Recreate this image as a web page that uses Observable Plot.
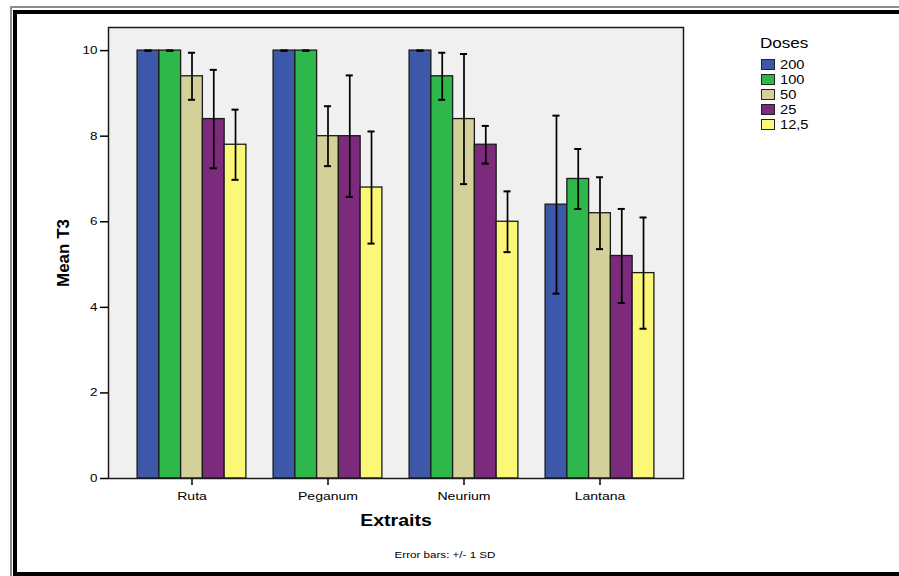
<!DOCTYPE html>
<html>
<head>
<meta charset="utf-8">
<script src="https://cdn.jsdelivr.net/npm/d3@7"></script>
<script src="https://cdn.jsdelivr.net/npm/@observablehq/plot@0.6"></script>
<style>
  html, body { margin: 0; padding: 0; background: #fff; }
  #wrap { position: relative; width: 899px; height: 576px; overflow: hidden; font-family: "Liberation Sans", Arial, sans-serif; background: #fff; }
  #chart { position: absolute; left: 0; top: 0; }
  .b1 { position: absolute; left: 10px; top: 6px; width: 920px; height: 600px; border-left: 2px solid #8c8c8c; border-top: 2px solid #8c8c8c; }
  .b2 { position: absolute; left: 13px; top: 10px; width: 920px; height: 558px; border: 4px solid #000; border-right: none; }
  .lg { position: absolute; white-space: nowrap; color: #000; line-height: 1; }
  .lg span { display: inline-block; transform: scaleX(1.22); transform-origin: left center; }
  .sw { position: absolute; box-sizing: border-box; width: 14px; height: 10.5px; border: 1.5px solid #222; }
</style>
</head>
<body>
<div id="wrap">
  <div class="b1"></div>
  <div class="b2"></div>
  <div id="chart"></div>
  <div id="legend"></div>
</div>
<script>
const categories = ["Ruta", "Peganum", "Neurium", "Lantana"];
const doses = ["200", "100", "50", "25", "12,5"];
const doseColors = ["#3d57a9", "#2eb84b", "#d4d099", "#7c2a7c", "#fbf777"];

const meanRuta    = [10, 10, 9.4, 8.4, 7.8];
const meanPeganum = [10, 10, 8.0, 8.0, 6.8];
const meanNeurium = [10, 9.4, 8.4, 7.8, 6.0];
const meanLantana = [6.4, 7.0, 6.2, 5.2, 4.8];

const sdRuta    = [0, 0, 0.55, 1.15, 0.82];
const sdPeganum = [0, 0, 0.70, 1.42, 1.31];
const sdNeurium = [0, 0.55, 1.52, 0.44, 0.71];
const sdLantana = [2.08, 0.70, 0.84, 1.10, 1.30];

const yTicks = [0, 2, 4, 6, 8, 10];
const groupTicks = [0, 1, 2, 3];

const means = [meanRuta, meanPeganum, meanNeurium, meanLantana];
const sds = [sdRuta, sdPeganum, sdNeurium, sdLantana];

// band layout in group units: band width 0.8, outer padding 0.214
const bandW = 0.8;
const bw = bandW / doses.length;
const cap = 0.026;
const data = categories.flatMap((cat, g) => doses.map((dose, i) => ({
  cat, dose,
  mean: means[g][i],
  sd: sds[g][i],
  x1: g - bandW / 2 + i * bw,
  x2: g - bandW / 2 + (i + 1) * bw,
  xc: g - bandW / 2 + (i + 0.5) * bw
})));

const plot = Plot.plot({
  width: 899,
  height: 576,
  marginLeft: 108,
  marginRight: 216,
  marginTop: 27,
  marginBottom: 98,
  style: { fontFamily: '"Liberation Sans", Arial, sans-serif', fontSize: "11px", color: "#000", background: "transparent", overflow: "visible" },
  x: { domain: [-0.614, 3.614] },
  y: { domain: [0, 10.54] },
  color: { domain: doses, range: doseColors },
  marks: [
    Plot.frame({ fill: "#f0f0f0" }),
    Plot.rectY(data, { x1: "x1", x2: "x2", y: "mean", fill: "dose", stroke: "#1a1a1a", strokeWidth: 1.3 }),
    Plot.ruleX(data, { x: "xc", y1: d => d.mean - d.sd, y2: d => d.mean + d.sd, stroke: "#000", strokeWidth: 1.7 }),
    Plot.ruleY(data, { y: d => d.mean + d.sd, x1: d => d.xc - cap, x2: d => d.xc + cap, stroke: "#000", strokeWidth: 2 }),
    Plot.ruleY(data, { y: d => d.mean - d.sd, x1: d => d.xc - cap, x2: d => d.xc + cap, stroke: "#000", strokeWidth: 2 }),
    Plot.frame({ stroke: "#1a1a1a", strokeWidth: 1.5 }),
    Plot.axisY({ ticks: yTicks, tickSize: 8, tickPadding: 3, label: null, fontSize: 11, strokeWidth: 1.5 }),
    Plot.axisX({ ticks: groupTicks, tickFormat: i => categories[i], tickSize: 7, tickPadding: 6, label: null, fontSize: 11.5, strokeWidth: 1.5 }),
    Plot.text(["Mean T3"], { text: d => d, frameAnchor: "left", dx: -45, rotate: -90, textAnchor: "middle", lineAnchor: "middle", fontSize: 17, fontWeight: "bold" }),
    Plot.text(["Extraits"], { text: d => d, frameAnchor: "bottom", dy: 42, textAnchor: "middle", lineAnchor: "middle", fontSize: 16, fontWeight: "bold" }),
    Plot.text(["Error bars: +/- 1 SD"], { text: d => d, frameAnchor: "bottom", dx: 49, dy: 76, textAnchor: "middle", lineAnchor: "middle", fontSize: 9.5 })
  ]
});

document.getElementById("chart").append(plot);

// the reference is horizontally stretched: widen horizontal texts
const S = 1.22;
plot.querySelectorAll("text").forEach(t => {
  if (t.textContent === "Mean T3") return;
  const L = t.getComputedTextLength();
  if (L > 0) {
    t.setAttribute("textLength", L * S);
    t.setAttribute("lengthAdjust", "spacingAndGlyphs");
  }
});

// legend
const legend = document.getElementById("legend");
const title = document.createElement("div");
title.className = "lg";
title.style.left = "760px";
title.style.top = "36px";
title.style.fontSize = "14px";
title.innerHTML = "<span>Doses</span>";
legend.append(title);
doses.forEach((d, k) => {
  const sw = document.createElement("div");
  sw.className = "sw";
  sw.style.left = "761px";
  sw.style.top = (59.3 + 15 * k) + "px";
  sw.style.background = doseColors[k];
  legend.append(sw);
  const lb = document.createElement("div");
  lb.className = "lg";
  lb.style.left = "780px";
  lb.style.top = (58.5 + 15 * k) + "px";
  lb.style.fontSize = "12px";
  lb.innerHTML = "<span>" + d + "</span>";
  legend.append(lb);
});
</script>
</body>
</html>
